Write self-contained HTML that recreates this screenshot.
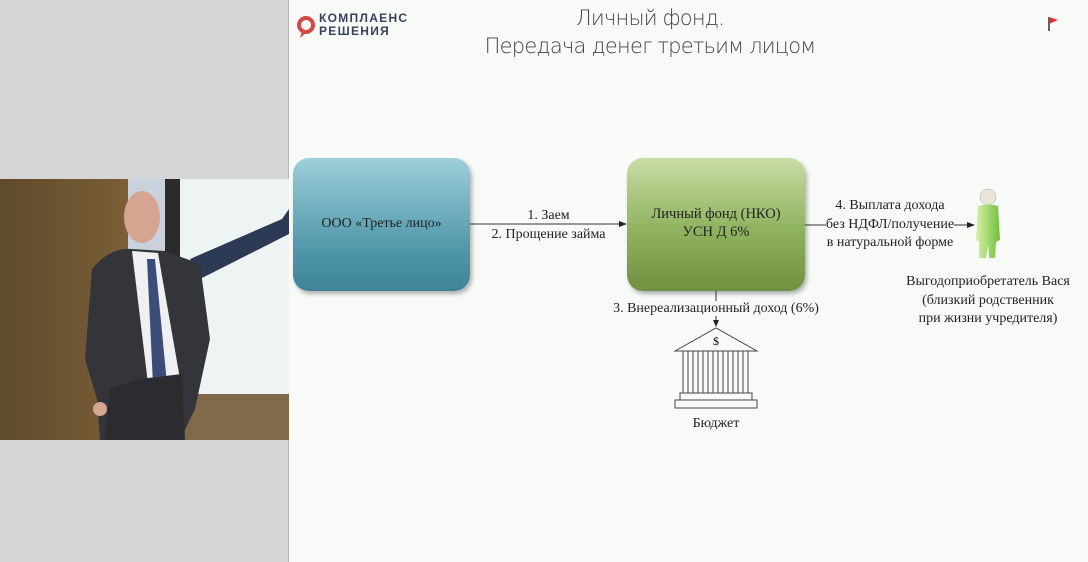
<!DOCTYPE html>
<html><head><meta charset="utf-8"><style>
*{margin:0;padding:0;box-sizing:border-box}
body{width:1088px;height:562px;position:relative;background:#f8faf8;overflow:hidden;font-family:"Liberation Serif","Noto Serif CJK SC",serif;color:#222}
.a{position:absolute}
.t{position:absolute;font-size:14px;line-height:18px;white-space:nowrap;text-align:center}
</style></head><body>
<div class="a" style="left:0;top:0;width:289px;height:562px;background:#d6d6d6;border-right:1px solid #b8b8b8"></div>
<!-- video -->
<div class="a" style="left:0;top:179px;width:289px;height:261px;overflow:hidden;background:#6e5631">
 <svg width="289" height="261">
  <defs><linearGradient id="w" x1="0" x2="1"><stop offset="0" stop-color="#5f4a2b"/><stop offset="1" stop-color="#7a5f38"/></linearGradient></defs>
  <rect width="130" height="261" fill="url(#w)"/>
  <rect x="128" y="0" width="52" height="230" fill="#c9d2dc"/>
  <rect x="165" y="0" width="15" height="225" fill="#2b2b2b"/>
  <rect x="180" y="0" width="109" height="215" fill="#eef3f4"/>
  <rect x="180" y="215" width="109" height="46" fill="#806a4a"/>
  <path d="M190 80 L282 40 L289 30 L289 55 L200 100Z" fill="#2d3a55"/>
  <path d="M92 90 Q110 68 132 70 L165 72 L200 85 L210 160 L195 230 L180 261 L100 261 L97 220 L85 180Z" fill="#33353b"/>
  <path d="M132 72 L158 74 L180 200 L148 205Z" fill="#eef0f2"/>
  <path d="M147 80 L155 80 L167 205 L159 215 L153 205Z" fill="#3c4c78"/>
  <path d="M140 200 L182 195 L185 261 L105 261 L110 210Z" fill="#2a2c30"/>
  <ellipse cx="142" cy="38" rx="18" ry="26" fill="#d6a592"/>
  <ellipse cx="100" cy="230" rx="7" ry="7" fill="#d6a592"/>
 </svg>
</div>
<!-- logo -->
<svg class="a" style="left:296px;top:14px" width="22" height="26"><circle cx="10" cy="11" r="7" fill="none" stroke="#d24a45" stroke-width="4"/><path d="M6 17 L4 24 L11 18Z" fill="#d24a45"/></svg>
<div class="a" style="left:319px;top:12px;font:bold 12px 'Liberation Sans',sans-serif;color:#3a3f5c;letter-spacing:1.3px;line-height:13px">КОМПЛАЕНС<br>РЕШЕНИЯ</div>
<div class="a" style="left:440px;top:4px;width:420px;text-align:center;font:300 21px 'DejaVu Sans','Liberation Sans',sans-serif;color:#444;line-height:28px;letter-spacing:-0.8px">Личный фонд.<br>Передача денег третьим лицом</div>
<svg class="a" style="left:1046px;top:15px" width="14" height="18"><line x1="3" y1="2" x2="3" y2="16" stroke="#333" stroke-width="1.5"/><path d="M3 2 L12 5 L3 9Z" fill="#d33"/></svg>
<!-- boxes -->
<div class="a" style="left:293px;top:158px;width:177px;height:133px;border-radius:16px;background:linear-gradient(#9ccfda,#4f96a8 70%,#3e8496);box-shadow:2px 3px 4px rgba(0,0,0,.3)"></div>
<div class="t" style="left:293px;top:215px;width:177px;font-size:14px">ООО «Третье лицо»</div>
<div class="a" style="left:627px;top:158px;width:178px;height:133px;border-radius:16px;background:linear-gradient(#c9dca4,#8fb25e 55%,#6f9140);box-shadow:2px 3px 4px rgba(0,0,0,.3)"></div>
<div class="t" style="left:627px;top:205px;width:178px;font-size:14.5px;line-height:18px">Личный фонд (НКО)<br>УСН Д 6%</div>
<svg class="a" style="left:0;top:0" width="1088" height="562">
 <line x1="470" y1="224" x2="622" y2="224" stroke="#333"/><path d="M627 224 L619 221 L619 227Z" fill="#222"/>
 <line x1="805" y1="225" x2="970" y2="225" stroke="#333"/><path d="M975 225 L967 222 L967 228Z" fill="#222"/>
 <line x1="716" y1="291" x2="716" y2="322" stroke="#333"/><path d="M716 327 L713 320 L719 320Z" fill="#222"/>
 <defs><linearGradient id="p" x1="0" x2="1"><stop offset="0" stop-color="#d8f0a8"/><stop offset="1" stop-color="#6fc03a"/></linearGradient></defs>
 <circle cx="988" cy="197" r="8" fill="#e9e4d8" stroke="#aaa" stroke-width=".5"/>
 <path d="M978 206 Q988 203 998 206 L1000 240 L996 242 L995 258 L989 258 L988 244 L986 258 L979 258 L979 242 L976 240Z" fill="url(#p)"/>
 <path d="M675 351 L716 328 L757 351Z" fill="#f8faf8" stroke="#444"/>
 <text x="716" y="345" font-size="12" text-anchor="middle" font-family="Liberation Serif">$</text>
 <g stroke="#444" fill="none">
  <rect x="683" y="351" width="5" height="42"/><rect x="693" y="351" width="5" height="42"/><rect x="703" y="351" width="5" height="42"/><rect x="713" y="351" width="5" height="42"/><rect x="723" y="351" width="5" height="42"/><rect x="733" y="351" width="5" height="42"/><rect x="743" y="351" width="5" height="42"/>
  <rect x="680" y="393" width="72" height="7"/><rect x="675" y="400" width="82" height="8"/>
 </g>
</svg>
<div class="t" style="left:470px;top:206px;width:157px;line-height:19px">1. Заем<br>2. Прощение займа</div>
<div class="t" style="left:805px;top:197px;width:170px;line-height:18.5px"><span style="background:#f8faf8">4. Выплата дохода</span><br><span style="background:#f8faf8">без НДФЛ/получение</span><br><span style="background:#f8faf8">в натуральной форме</span></div>
<div class="t" style="left:596px;top:300px;width:240px"><span style="background:#f8faf8">3. Внереализационный доход (6%)</span></div>
<div class="t" style="left:888px;top:273px;width:200px;line-height:18.5px">Выгодоприобретатель Вася<br>(близкий родственник<br>при жизни учредителя)</div>
<div class="t" style="left:666px;top:415px;width:100px">Бюджет</div>
</body></html>
